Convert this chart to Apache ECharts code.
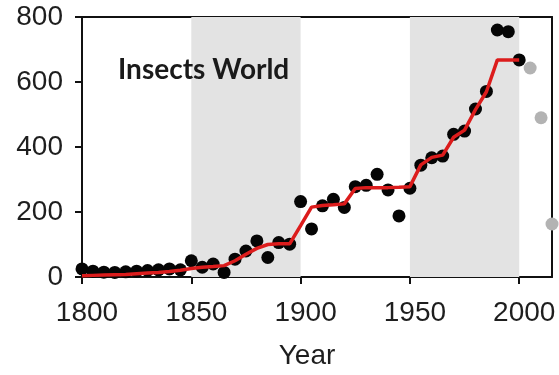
<!DOCTYPE html>
<html><head><meta charset="utf-8">
<script src="https://cdn.jsdelivr.net/npm/echarts@6/dist/echarts.min.js"></script>
<style>html,body{margin:0;padding:0;background:#fff}#c{width:559px;height:375px}</style>
</head><body><div id="c"></div>
<script>
const years = [1800,1805,1810,1815,1820,1825,1830,1835,1840,1845,1850,1855,1860,1865,1870,1875,1880,1885,1890,1895,1900,1905,1910,1915,1920,1925,1930,1935,1940,1945,1950,1955,1960,1965,1970,1975,1980,1985,1990,1995,2000];
const observed = [25,18,15,14,16,18,20,22,25,22,50,30,40,14,55,80,111,60,106,101,232,148,219,239,214,278,282,316,268,188,273,344,367,372,439,449,517,571,760,755,668];
const fitted = [4,5,6,7,8,10,12,14,17,21,26,30,32,35,50,70,88,100,102,102,158,215,220,222,225,272,275,275,275,276,278,345,368,375,430,452,515,570,668,668,668];
const grayYears = [2005,2010,2015];
const grayValues = [643,490,163];
const shadedPeriods = [[1850,1900],[1950,2000]];
const xTicks = [1800,1850,1900,1950,2000];

const chart = echarts.init(document.getElementById('c'));
const txt = '#1e1e1e';
const font = 'Liberation Sans';
const lineSt = {color: '#111', width: 2};
chart.setOption({
  animation: false,
  grid: {left: 82, right: 7, top: 17, bottom: 97},
  title: {text: 'Insects World', left: 113, top: 51, textStyle: {fontFamily: 'Lato', fontWeight: 'bold', fontSize: 28, color: '#1a1a1a'}},
  xAxis: [{type: 'value', min: 1800, max: 2015, interval: 50, position: 'bottom',
    name: 'Year', nameLocation: 'middle', nameGap: 65,
    nameTextStyle: {fontFamily: font, fontSize: 28, color: txt, padding: [0, 20, 0, 0]},
    axisLine: {show: true, onZero: false, lineStyle: lineSt},
    axisTick: {show: true, inside: false, length: 7, lineStyle: lineSt, customValues: xTicks},
    axisLabel: {fontFamily: font, fontSize: 28, color: txt, margin: 22, padding: [0, 0, 0, 10],
      formatter: v => (xTicks.indexOf(v) >= 0 ? String(v) : '')},
    splitLine: {show: false}},
   {type: 'value', min: 1800, max: 2015, position: 'top',
    axisLine: {show: true, onZero: false, lineStyle: lineSt},
    axisTick: {show: false}, axisLabel: {show: false}, splitLine: {show: false}}],
  yAxis: [{type: 'value', min: 0, max: 800, interval: 200, position: 'left',
    axisLine: {show: true, onZero: false, lineStyle: lineSt},
    axisTick: {show: true, inside: false, length: 7, lineStyle: lineSt},
    axisLabel: {fontFamily: font, fontSize: 28, color: txt, margin: 19},
    splitLine: {show: false}},
   {type: 'value', min: 0, max: 800, position: 'right',
    axisLine: {show: true, onZero: false, lineStyle: lineSt},
    axisTick: {show: false}, axisLabel: {show: false}, splitLine: {show: false}}],
  series: [
    {type: 'line', data: [], silent: true,
     markArea: {silent: true, itemStyle: {color: '#e3e3e3'},
       data: shadedPeriods.map(p => [{xAxis: p[0]}, {xAxis: p[1]}])}},
    {type: 'scatter', data: grayYears.map((y,i)=>[y,grayValues[i]]), symbolSize: 13,
     itemStyle: {color: '#b3b3b3', opacity: 1}, z: 3},
    {type: 'scatter', data: years.map((y,i)=>[y,observed[i]]), symbolSize: 13,
     itemStyle: {color: '#050505', opacity: 1}, z: 3},
    {type: 'line', data: years.map((y,i)=>[y,fitted[i]]), showSymbol: false,
     lineStyle: {color: '#dc1c1c', width: 3.5}, z: 4}
  ]
});
</script></body></html>
